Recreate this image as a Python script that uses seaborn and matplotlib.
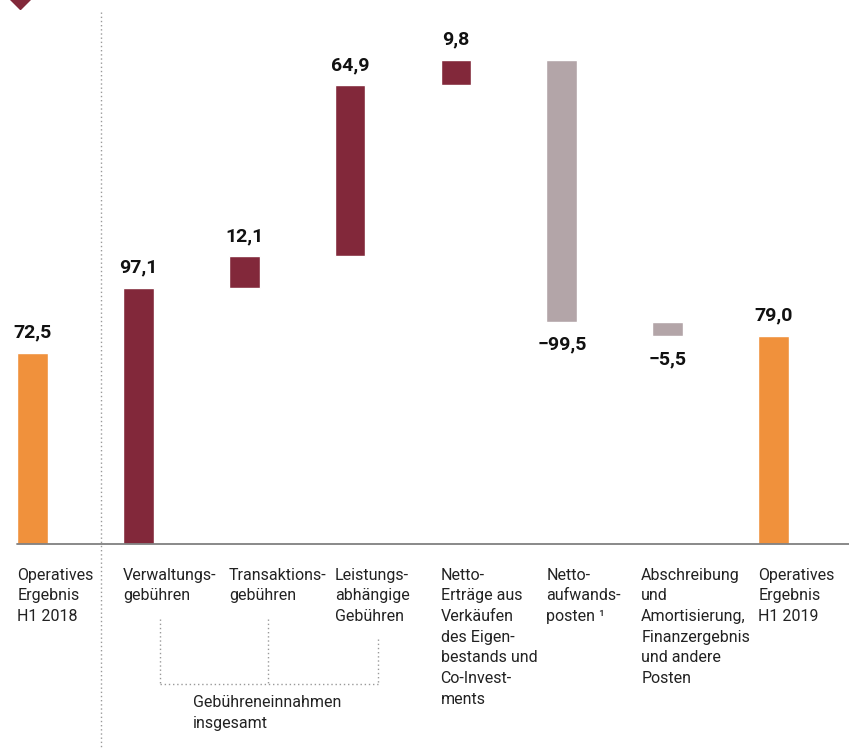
import numpy as np
import pandas as pd
import matplotlib
matplotlib.use("Agg")
import matplotlib.pyplot as plt
import seaborn as sns

# waterfall: operating result H1 2018 -> H1 2019
categories = ["Operatives Ergebnis H1 2018", "Verwaltungsgebühren", "Transaktionsgebühren",
              "Leistungsabhängige Gebühren", "Netto-Erträge", "Nettoaufwandsposten",
              "Abschreibung", "Operatives Ergebnis H1 2019"]
values = [72.5, 97.1, 12.1, 64.9, 9.8, -99.5, -5.5, 79.0]
kinds = ["total", "step", "step", "step", "step", "cost", "cost", "total"]
value_labels = ["72,5", "97,1", "12,1", "64,9", "9,8", "\u221299,5", "\u22125,5", "79,0"]
tick_labels = [
    "Operatives\nErgebnis\nH1 2018",
    "Verwaltungs-\ngebühren",
    "Transaktions-\ngebühren",
    "Leistungs-\nabhängige\nGebühren",
    "Netto-\nErträge aus\nVerkäufen\ndes Eigen-\nbestands und\nCo-Invest-\nments",
    "Netto-\naufwands-\nposten \u00b9",
    "Abschreibung\nund\nAmortisierung,\nFinanzergebnis\nund andere\nPosten",
    "Operatives\nErgebnis\nH1 2019",
]
group_label = "Gebühreneinnahmen\ninsgesamt"

colors = {"total": "#F0913C", "step": "#82283A", "cost": "#B3A5A8"}

# compute floating bar bottoms
bottoms, heights = [], []
running = 0.0
for v, k in zip(values, kinds):
    if k == "total":
        bottoms.append(0.0)
        heights.append(v)
    else:
        bottoms.append(running if v >= 0 else running + v)
        heights.append(abs(v))
        running += v

df = pd.DataFrame({"cat": categories, "top": np.array(bottoms) + np.array(heights)})

sns.set_style("white")
plt.rcParams["font.family"] = ["Roboto", "DejaVu Sans"]

fig = plt.figure(figsize=(8.49, 7.5), dpi=100)
ax = fig.add_axes([0, 0, 1, 1])

sns.barplot(data=df, x="cat", y="top", hue="cat", palette=[colors[k] for k in kinds],
            width=0.29, legend=False, ax=ax, saturation=1)
for p, b, h in zip(ax.patches, bottoms, heights):
    p.set_y(b)
    p.set_height(h)

ax.set_xlim(-0.307, 7.713)
ax.set_ylim(-78.2, 206.5)
ax.axis("off")

# baseline
ax.plot([-0.147, 7.713], [0, 0], color="#808080", lw=1.3, zorder=3)
# separator
ax.plot([0.647, 0.647], [202, -80], color="#999999", lw=1, ls=(0, (1, 2)), clip_on=False)
# diamond marker top-left
ax.plot([-0.118], [207.3], marker="D", ms=11, color="#82283A", clip_on=False)

for i, (b, h, v, lab) in enumerate(zip(bottoms, heights, values, value_labels)):
    if v >= 0:
        ax.annotate(lab, (i, b + h), xytext=(0, 11), textcoords="offset points",
                    ha="center", va="baseline", fontsize=14, fontweight="bold", color="#111111")
    else:
        ax.annotate(lab, (i, b), xytext=(0, -10), textcoords="offset points",
                    ha="center", va="top", fontsize=14, fontweight="bold", color="#111111")

for i, t in enumerate(tick_labels):
    x0 = i - 0.145
    if i == 6:  # long label sits a bit further left
        x0 -= 0.105
    ax.text(x0, -9.0, t, ha="left", va="top", fontsize=11.5, linespacing=1.47, color="#222222")

# bracket for fee income
dot = dict(color="#999999", lw=1, ls=(0, (1, 2)))
ax.plot([1.204, 1.204], [-28.5, -53.2], **dot)
ax.plot([2.225, 2.225], [-28.5, -53.2], **dot)
ax.plot([3.264, 3.264], [-36.1, -53.2], **dot)
ax.plot([1.204, 3.264], [-53.2, -53.2], **dot)
ax.text(1.516, -57.3, group_label, ha="left", va="top", fontsize=11.5, linespacing=1.47, color="#222222")

fig.savefig("out.png", dpi=100)
